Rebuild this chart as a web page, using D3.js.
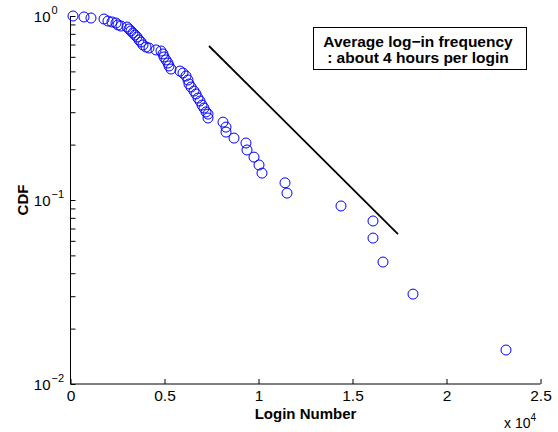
<!DOCTYPE html>
<html>
<head>
<meta charset="utf-8">
<script src="https://cdn.jsdelivr.net/npm/d3@7"></script>
<style>
  body { margin: 0; background: #fff; }
  svg { font-family: "Liberation Sans", Arial, Helvetica, sans-serif; }
</style>
</head>
<body>
<svg id="chart" width="558" height="432"></svg>
<script>
// login number (x) and CDF (y)
const loginNumber = [133, 718, 1090, 1782, 1995, 2207, 2420, 2527, 2686, 3005, 3112, 3218, 3324, 3431, 3537, 3644, 3750, 3856, 4016, 4176, 4548, 4814, 4920, 4973, 5080, 5186, 5239, 5346, 5824, 5984, 6144, 6250, 6303, 6410, 6569, 6676, 6782, 6888, 6995, 7101, 7207, 7314, 7314, 8112, 8271, 8271, 8697, 9335, 9388, 9761, 10027, 10186, 11410, 11516, 14388, 16090, 16090, 16622, 18218, 23165]
const cdf = [1.0, 0.988, 0.975, 0.963, 0.939, 0.928, 0.916, 0.894, 0.882, 0.871, 0.850, 0.829, 0.808, 0.788, 0.769, 0.741, 0.722, 0.696, 0.678, 0.670, 0.654, 0.645, 0.622, 0.599, 0.577, 0.555, 0.535, 0.515, 0.502, 0.490, 0.472, 0.449, 0.427, 0.411, 0.391, 0.377, 0.358, 0.345, 0.328, 0.316, 0.301, 0.293, 0.279, 0.265, 0.249, 0.234, 0.217, 0.204, 0.187, 0.171, 0.155, 0.140, 0.124, 0.109, 0.0928, 0.0769, 0.0621, 0.0460, 0.0308, 0.0153]

// reference slope line
const fitX = [7367, 17420]
const fitY = [0.687, 0.0653]

const xTicks = [0, 5000, 10000, 15000, 20000, 25000]
const xTickLabels = ["0", "0.5", "1", "1.5", "2", "2.5"]
const yDecades = [1, 0.1, 0.01]
const yExponents = ["0", "\u22121", "\u22122"]
const legendLines = ["Average log\u2212in frequency", ": about 4 hours per login"]

const margin = { left: 70.5, right: 17.5, top: 16, bottom: 48 }
const width = 558, height = 432

const svg = d3.select("#chart")

const x = d3.scaleLinear()
    .domain([0, 25000])
    .range([margin.left, width - margin.right])
const y = d3.scaleLog()
    .domain([0.01, 1])
    .range([height - margin.bottom, margin.top])

const tickLen = 5

// axes (MATLAB style, ticks pointing in)
const xAxis = svg.append("g")
    .attr("transform", `translate(0,${y(0.01)})`)
    .call(d3.axisBottom(x).tickValues(xTicks).tickSize(-tickLen).tickFormat((d, i) => xTickLabels[i]).tickSizeOuter(0))
xAxis.select(".domain").attr("stroke", "#000").attr("d", `M${x(0)},0H${x(25000)}`)
xAxis.selectAll(".tick line").attr("stroke", "#000")
xAxis.selectAll(".tick text")
    .attr("y", 6)
    .attr("dy", "0.71em")
    .attr("font-size", 15.5)
    .attr("fill", "#000")

// y minor + major ticks
const yMinor = []
for (let e = -2; e < 0; e++) {
    for (let m = 1; m <= 9; m++) yMinor.push(m * Math.pow(10, e))
}
yMinor.push(1)
const yAxis = svg.append("g")
    .attr("transform", `translate(${x(0)},0)`)
    .call(d3.axisLeft(y).tickValues(yMinor).tickSize(-tickLen).tickFormat("").tickSizeOuter(0))
yAxis.select(".domain").attr("stroke", "#000").attr("d", `M0,${y(1)}V${y(0.01)}`)
yAxis.selectAll(".tick line").attr("stroke", "#000")

const yLab = svg.append("g")
yDecades.forEach((d, i) => {
    yLab.append("text")
        .attr("x", x(0) - 20)
        .attr("y", y(d) + 6)
        .attr("text-anchor", "end")
        .attr("font-size", 15)
        .text("10")
    yLab.append("text")
        .attr("x", x(0) - 19)
        .attr("y", y(d) - 2)
        .attr("font-size", 11)
        .text(yExponents[i])
})

// axis titles
svg.append("text")
    .attr("transform", `translate(28,${(y(1) + y(0.01)) / 2}) rotate(-90)`)
    .attr("text-anchor", "middle")
    .attr("font-size", 15)
    .attr("font-weight", "bold")
    .text("CDF")

svg.append("text")
    .attr("x", (x(0) + x(25000)) / 2)
    .attr("y", 419)
    .attr("text-anchor", "middle")
    .attr("font-size", 15)
    .attr("font-weight", "bold")
    .text("Login Number")

const mult = svg.append("text")
    .attr("x", 504)
    .attr("y", 428)
    .attr("font-size", 14)
mult.append("tspan").text("x 10")
mult.append("tspan").attr("dy", -7).attr("font-size", 10).text("4")

// slope line
svg.append("path")
    .attr("d", d3.line()(fitX.map((v, i) => [x(v), y(fitY[i])])))
    .attr("stroke", "#000")
    .attr("stroke-width", 1.8)
    .attr("fill", "none")

// data markers
svg.append("g")
    .selectAll("circle")
    .data(loginNumber.map((v, i) => [v, cdf[i]]))
    .join("circle")
    .attr("cx", d => x(d[0]))
    .attr("cy", d => y(d[1]))
    .attr("r", 5)
    .attr("fill", "none")
    .attr("stroke", "#0000ff")
    .attr("stroke-width", 1)

// annotation box
const box = svg.append("g")
box.append("rect")
    .attr("x", 313.5)
    .attr("y", 27.5)
    .attr("width", 213)
    .attr("height", 42)
    .attr("fill", "#fff")
    .attr("stroke", "#000")
legendLines.forEach((s, i) => {
    box.append("text")
        .attr("x", 418)
        .attr("y", 47 + i * 16)
        .attr("text-anchor", "middle")
        .attr("font-size", 15.5)
        .attr("font-weight", "bold")
        .text(s)
})
</script>
</body>
</html>
